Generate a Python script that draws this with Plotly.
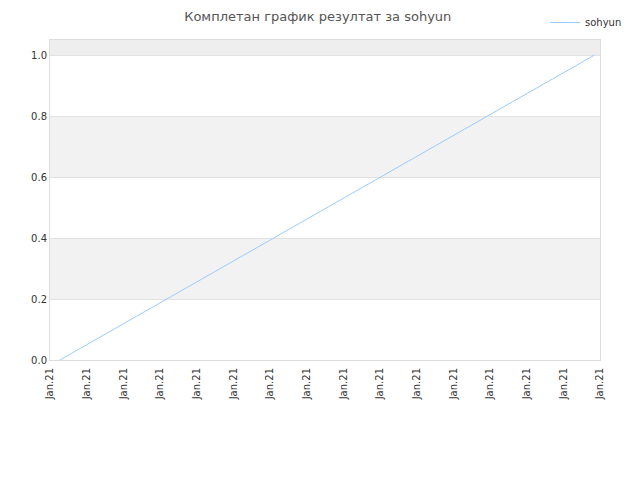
import plotly.graph_objects as go

# Data
x_values = [0.27, 14.84]
y_values = [0.0, 1.0]
series_name = "sohyun"
tick_positions = list(range(16))
tick_labels = ["Jan.21"] * 16
y_ticks = [0.0, 0.2, 0.4, 0.6, 0.8, 1.0]
bands = [(0.2, 0.4, "#F2F2F2"), (0.6, 0.8, "#F2F2F2"), (1.0, 1.05, "#EEEEEE")]

fig = go.Figure()
fig.add_trace(go.Scatter(
    x=x_values, y=y_values, mode="lines", name=series_name,
    line=dict(color="#99CCFF", width=1),
))

shapes = []
for y0, y1, c in bands:
    shapes.append(dict(type="rect", xref="paper", yref="y", x0=0, x1=1, y0=y0, y1=y1,
                       fillcolor=c, line=dict(width=0), layer="below"))

fig.update_layout(
    width=640, height=480,
    paper_bgcolor="white", plot_bgcolor="white",
    margin=dict(l=42, r=48, t=32, b=128, autoexpand=False),
    font=dict(family="DejaVu Sans, sans-serif", size=10, color="#333333"),
    title=dict(text="Комплетан график резултат за sohyun", x=0.484, xanchor="center",
               xref="container", y=0.982, yanchor="middle",
               font=dict(size=13, color="#555555")),
    showlegend=True,
    legend=dict(x=0.839, y=1.0, xanchor="left", yanchor="top",
                xref="container", yref="container",
                font=dict(size=10, color="#333333"), bgcolor="rgba(0,0,0,0)"),
    shapes=shapes,
    xaxis=dict(range=[0, 15], tickvals=tick_positions, ticktext=tick_labels,
               tickangle=-90, showgrid=False, zeroline=False,
               showline=True, linecolor="#DDDDDD", mirror=True,
               ticks="outside", ticklen=3, tickcolor="rgba(0,0,0,0)",
               tickfont=dict(size=10, color="#333333")),
    yaxis=dict(range=[0, 1.05], tickvals=y_ticks, tickformat=".1f",
               showgrid=True, gridcolor="#E2E2E2", zeroline=False,
               showline=True, linecolor="#DDDDDD", mirror=True,
               ticks="", tickfont=dict(size=10, color="#333333")),
)
fig.write_html("out.html")
